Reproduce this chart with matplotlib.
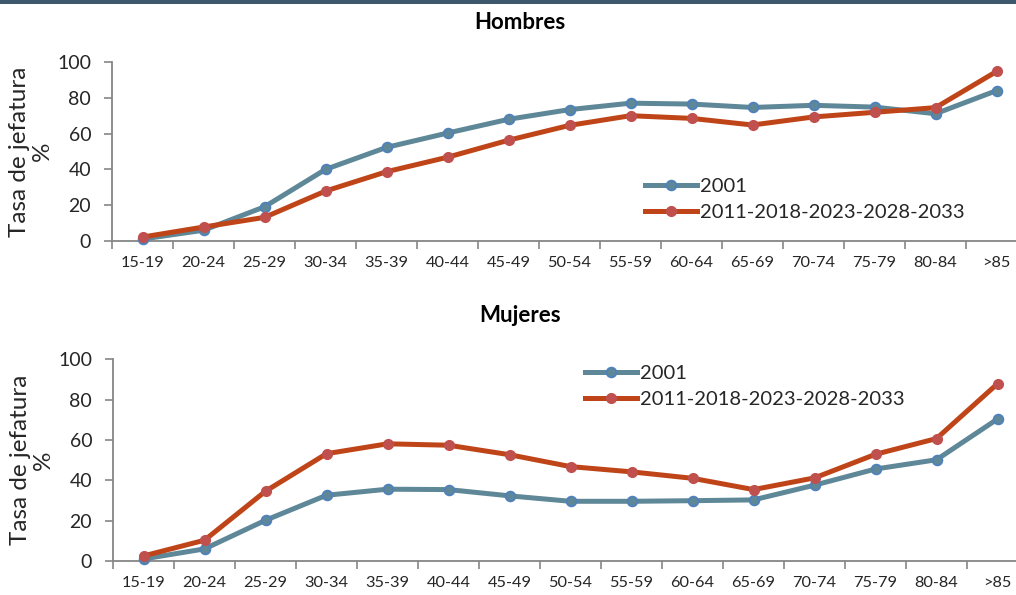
import matplotlib
matplotlib.use("Agg")
import matplotlib.pyplot as plt
from matplotlib.patches import Rectangle
from matplotlib.lines import Line2D

plt.rcParams['font.family'] = ['Lato', 'DejaVu Sans']

age_groups = ["15-19", "20-24", "25-29", "30-34", "35-39", "40-44", "45-49",
              "50-54", "55-59", "60-64", "65-69", "70-74", "75-79", "80-84", ">85"]
yticks = [0, 20, 40, 60, 80, 100]

men_2001 = [1.1, 6.0, 19.1, 40.0, 52.3, 60.3, 68.0, 73.4, 77.0, 76.5, 74.6, 75.8, 74.8, 71.1, 84.0]
men_proj = [2.2, 7.8, 13.2, 27.9, 38.7, 46.8, 56.3, 64.6, 70.0, 68.5, 64.8, 69.3, 71.9, 74.5, 94.7]
women_2001 = [1.0, 6.0, 20.2, 32.6, 35.6, 35.4, 32.3, 29.6, 29.6, 29.9, 30.3, 37.6, 45.6, 50.2, 70.4]
women_proj = [2.5, 10.3, 34.6, 53.2, 58.1, 57.4, 52.7, 46.8, 44.2, 41.0, 35.4, 41.2, 52.9, 60.7, 87.9]

series_labels = ["2001", "2011-2018-2023-2028-2033"]

BLUE_LINE = "#5e8797"
BLUE_EDGE = "#4f81bd"
RED_LINE = "#bf4519"
RED_MARK = "#c0504d"
SPINE = "#868686"
TEXT = "#262626"

W, H = 1016, 595
fig = plt.figure(figsize=(W / 100, H / 100), dpi=100)
fig.patches.append(Rectangle((0, 1 - 4 / H), 1, 4 / H, transform=fig.transFigure,
                             facecolor="#3d586c", edgecolor="none", zorder=10))


def px_axes(left, top, bottom, right):
    return fig.add_axes([left / W, 1 - bottom / H, (right - left) / W, (bottom - top) / H])


def style_axes(ax):
    x = list(range(len(age_groups)))
    ax.set_xlim(-0.5, len(age_groups) - 0.5)
    ax.set_ylim(0, 100)
    ax.set_xticks(x)
    ax.set_xticklabels(age_groups)
    ax.set_xticks([i - 0.5 for i in range(len(age_groups) + 1)], minor=True)
    ax.tick_params(axis="x", which="major", length=0, pad=11, labelsize=11.8, labelcolor=TEXT)
    ax.tick_params(axis="x", which="minor", length=6, width=1.2, color=SPINE, direction="out")
    ax.set_yticks(yticks)
    ax.tick_params(axis="y", length=6, width=1.2, color=SPINE, labelsize=14,
                   labelcolor=TEXT, pad=9)
    for s in ("top", "right"):
        ax.spines[s].set_visible(False)
    for s in ("left", "bottom"):
        ax.spines[s].set_color(SPINE)
        ax.spines[s].set_linewidth(1.3)
    ax.set_ylabel("Tasa de jefatura\n%", fontsize=17.5, color=TEXT, linespacing=1.12, labelpad=3)
    ax.set_facecolor("none")


def plot_pair(ax, a, b):
    x = list(range(len(age_groups)))
    ax.plot(x, a, color=BLUE_LINE, lw=3.6, marker="o", ms=7, mfc=BLUE_LINE,
            mec=BLUE_EDGE, mew=1.3, clip_on=False, zorder=3)
    ax.plot(x, b, color=RED_LINE, lw=3.6, marker="o", ms=7, mfc=RED_MARK,
            mec=RED_MARK, mew=1.0, clip_on=False, zorder=4)


def add_legend(ax, x0, y0):
    handles = [
        Line2D([], [], color=BLUE_LINE, lw=3.6, marker="o", ms=7, mfc=BLUE_LINE, mec=BLUE_EDGE, mew=1.3),
        Line2D([], [], color=RED_LINE, lw=3.6, marker="o", ms=7, mfc=RED_MARK, mec=RED_MARK),
    ]
    ax.legend(handles, series_labels, loc="upper left", bbox_to_anchor=(x0 / W, 1 - y0 / H),
              bbox_transform=fig.transFigure, frameon=False, fontsize=14.5,
              handlelength=2.6, handletextpad=0.15, labelspacing=0.45,
              borderpad=0, borderaxespad=0, labelcolor=TEXT)


ax1 = px_axes(112, 62, 241, 112 + 15 * 61)
style_axes(ax1)
plot_pair(ax1, men_2001, men_proj)
add_legend(ax1, 645, 178)
fig.text(520 / W, 1 - 22.5 / H, "Hombres", ha="center", va="center", fontsize=16,
         fontweight="bold", color="black")

ax2 = px_axes(113, 359.3, 561, 113 + 15 * 61)
style_axes(ax2)
plot_pair(ax2, women_2001, women_proj)
add_legend(ax2, 585, 365)
fig.text(520 / W, 1 - 316 / H, "Mujeres", ha="center", va="center", fontsize=16,
         fontweight="bold", color="black")

fig.savefig("out.png", dpi=100)
